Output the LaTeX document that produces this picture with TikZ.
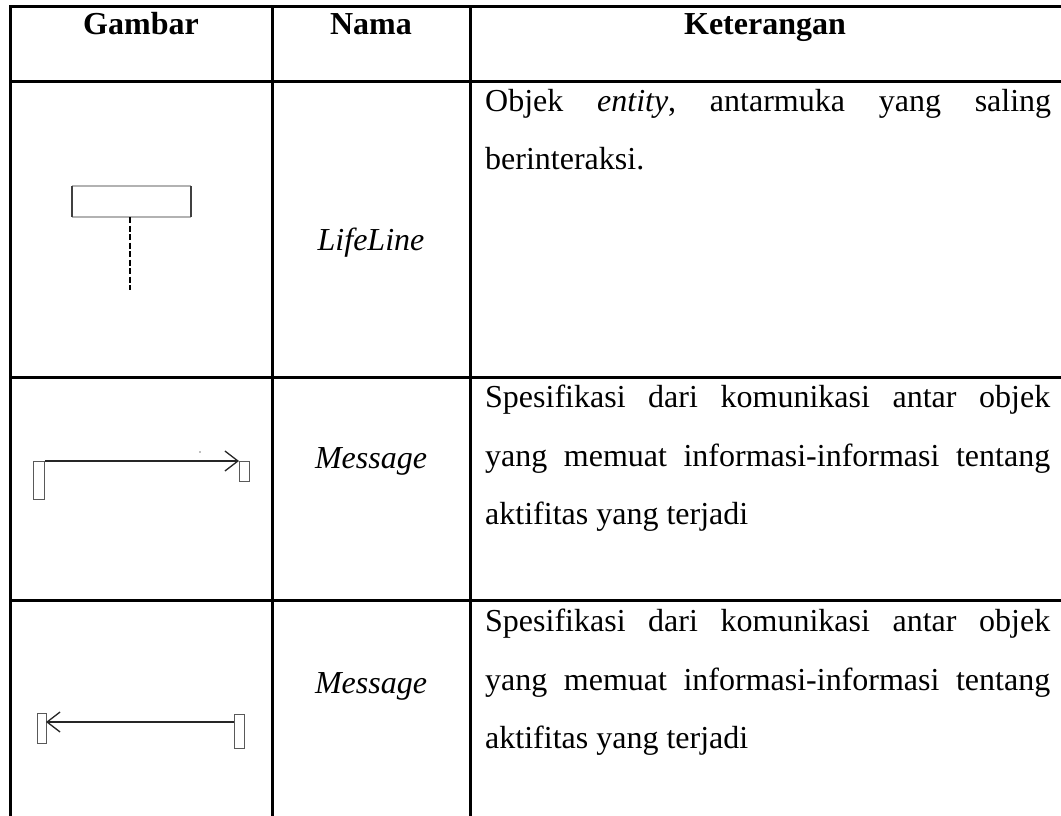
\documentclass[tikz,border=0pt]{standalone}
\usepackage{fontspec}
\setmainfont{Liberation Serif}[Ligatures=NoCommon]
\usetikzlibrary{arrows.meta}
\begin{document}
\begin{tikzpicture}[x=1pt,y=-1pt,
  grid/.style={line width=3pt, line cap=rect},
  body/.style={inner sep=0pt, font=\fontsize{32}{40}\selectfont},
  txt/.style={body, anchor=base west},
  ctr/.style={body, anchor=base},
  hdr/.style={inner sep=0pt, anchor=base, font=\fontsize{32}{40}\selectfont\bfseries},
  bar/.style={draw=black!65, line width=1.1pt, fill=white, inner sep=0pt, anchor=north west},
  msg/.style={line width=1.3pt, draw=black!85},
  tip/.style={-{Straight Barb[length=13pt,width=20pt,line width=1.3pt]}}
 ]
\useasboundingbox (0,0) rectangle (1061,816);
\fill[white] (0,0) rectangle (1061,816);

% table rules
\draw[grid] (10,7) -- (1070,7);
\draw[grid] (10,82) -- (1070,82);
\draw[grid] (10,377) -- (1070,377);
\draw[grid] (10,600) -- (1070,600);
\draw[grid] (10,7) -- (10,830);
\draw[grid] (272,7) -- (272,830);
\draw[grid] (470,7) -- (470,830);

% headers
\node[hdr] (h1) at (141,35) {Gambar};
\node[hdr] (h2) at (371,35) {Nama};
\node[hdr] (h3) at (765,35) {Keterangan};

% row 1
\node[ctr] (n1) at (371,250) {\itshape LifeLine};
\node[txt] (k1a) at (485,111) {\hbox to 566pt{Objek\hfill\textit{entity},\hfill antarmuka\hfill yang\hfill saling}};
\node[txt] (k1b) at (485,169) {berinteraksi.};

% lifeline icon
\draw[black!30, line width=1.2pt] (72,186) -- (191,186);
\draw[black!30, line width=1.2pt] (72,217) -- (191,217);
\draw[black!75, line width=1.8pt] (72,186) -- (72,217);
\draw[black!75, line width=1.8pt] (191,186) -- (191,217);
\coordinate (ll1) at (130,217);
\coordinate (ll2) at (130,290);
\draw[line width=1.3pt, dash pattern=on 6pt off 2.5pt] (ll1) -- (ll2);

% row 2
\node[ctr] (n2) at (371,468) {\itshape Message};
\node[txt] (k2a) at (485,407) {\hbox to 565pt{Spesifikasi\hfill dari\hfill komunikasi\hfill antar\hfill objek}};
\node[txt] (k2b) at (485,466) {\hbox to 565pt{yang\hfill memuat\hfill informasi-informasi\hfill tentang}};
\node[txt] (k2c) at (485,524) {aktifitas yang terjadi};

% message icon 1
\node[bar, minimum width=11pt, minimum height=38pt] (a1) at (33,461) {};
\node[bar, minimum width=10pt, minimum height=20pt] (b1) at (239,461) {};
\draw[msg, tip] (a1.north east) -- (b1.north west);
\fill[black!50] (200,452) circle (0.8pt);

% row 3
\node[ctr] (n3) at (371,693) {\itshape Message};
\node[txt] (k3a) at (485,631) {\hbox to 565pt{Spesifikasi\hfill dari\hfill komunikasi\hfill antar\hfill objek}};
\node[txt] (k3b) at (485,690) {\hbox to 565pt{yang\hfill memuat\hfill informasi-informasi\hfill tentang}};
\node[txt] (k3c) at (485,748) {aktifitas yang terjadi};

% message icon 2
\node[bar, minimum width=9pt, minimum height=30pt] (a2) at (37,713) {};
\node[bar, minimum width=10pt, minimum height=34pt] (b2) at (234,714) {};
\coordinate (m2r) at (234,722);
\coordinate (m2l) at (46,722);
\draw[msg, tip] (m2r) -- (m2l);
\end{tikzpicture}
\end{document}
